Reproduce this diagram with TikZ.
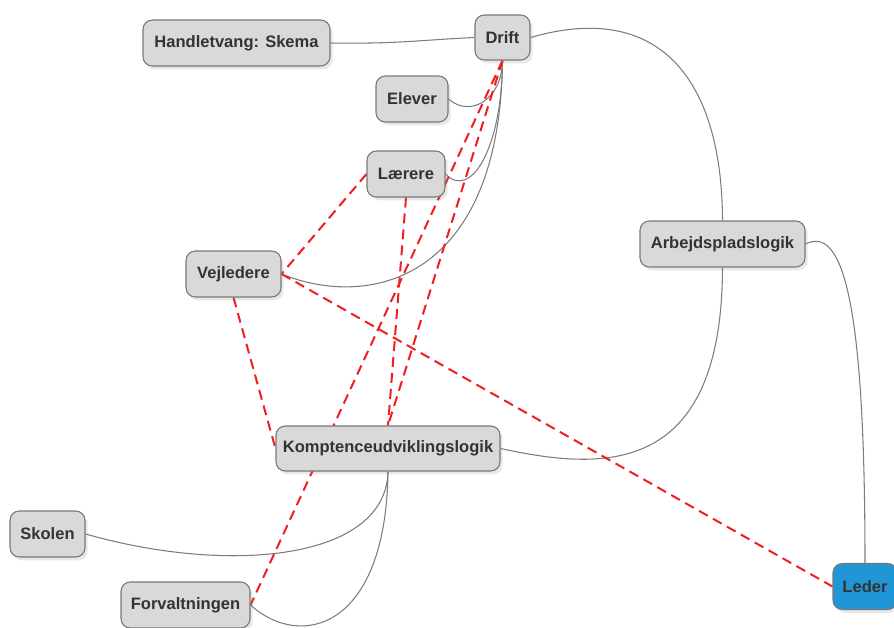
\documentclass[tikz,border=0pt]{standalone}
\usepackage{fontspec}
\setmainfont{Liberation Sans}
\usetikzlibrary{shadows,backgrounds}
\definecolor{boxfill}{RGB}{217,217,217}
\definecolor{boxdraw}{RGB}{120,120,120}
\definecolor{txt}{RGB}{51,51,51}
\definecolor{ledblue}{RGB}{33,150,214}
\definecolor{linkgray}{RGB}{125,125,125}
\definecolor{dashred}{RGB}{240,30,30}
\tikzset{
  mapnode/.style={draw=boxdraw, line width=0.8pt, fill=boxfill, rounded corners=7pt,
    text=txt, font=\fontsize{12.4}{14}\selectfont\bfseries, inner sep=0pt,
    minimum height=34.5pt,
    drop shadow={shadow xshift=2pt, shadow yshift=-2.5pt, opacity=0.18}},
  link/.style={draw=linkgray, line width=0.8pt},
  rel/.style={draw=dashred, line width=1.5pt, dash pattern=on 7.5pt off 4.5pt},
}
\begin{document}
\begin{tikzpicture}[x=0.75pt, y=-0.75pt]
\useasboundingbox (0,0) rectangle (894,628);
\node[mapnode, minimum width=140.25pt] (hand) at (236.5,43) {Handletvang: Skema};
\node[mapnode, minimum width=41.25pt, minimum height=33.75pt] (drift) at (502.5,37.5) {Drift};
\node[mapnode, minimum width=54pt] (elever) at (412,99) {Elever};
\node[mapnode, minimum width=58.5pt] (laerere) at (406,174) {Lærere};
\node[mapnode, minimum width=71.25pt] (vejl) at (233.5,274) {Vejledere};
\node[mapnode, minimum width=123.75pt] (arb) at (722.5,244) {Arbejdspladslogik};
\node[mapnode, minimum width=168pt, minimum height=33.75pt] (komp) at (388,448.5) {Komptenceudviklingslogik};
\node[mapnode, minimum width=56.25pt] (skolen) at (47.5,534) {Skolen};
\node[mapnode, minimum width=96.75pt] (forv) at (185.5,605) {Forvaltningen};
\node[mapnode, fill=ledblue, minimum width=48pt] (leder) at (865,586.5) {Leder};
\begin{scope}[on background layer]
\path[link] (hand.east) .. controls (400,44) and (420,40) .. (drift.west);
\path[link] (drift.east) .. controls (660,0) and (722,80) .. (arb.north);
\path[link] (arb.east) .. controls (845,224) and (865,313) .. (leder.north);
\path[link] (arb.south) .. controls (722,480) and (600,470) .. (komp.east);
\path[link] (drift.south) .. controls (502,100) and (470,118) .. (elever.east);
\path[link] (drift.south) .. controls (502,150) and (470,200) .. (laerere.east);
\path[link] (drift.south) .. controls (500,280) and (370,310) .. (vejl.east);
\path[link] (komp.south) .. controls (386,560) and (230,575) .. (skolen.east);
\path[link] (komp.south) .. controls (386,630) and (300,650) .. (forv.east);
\path[rel] (laerere.west) -- (vejl.east);
\path[rel] (vejl.east) -- (leder.west);
\path[rel] (vejl.south) -- (komp.west);
\path[rel] (laerere.south) -- (komp.north);
\path[rel] (drift.south) -- (komp.north);
\path[rel] (drift.south) -- (forv.east);
\end{scope}
\end{tikzpicture}
\end{document}
